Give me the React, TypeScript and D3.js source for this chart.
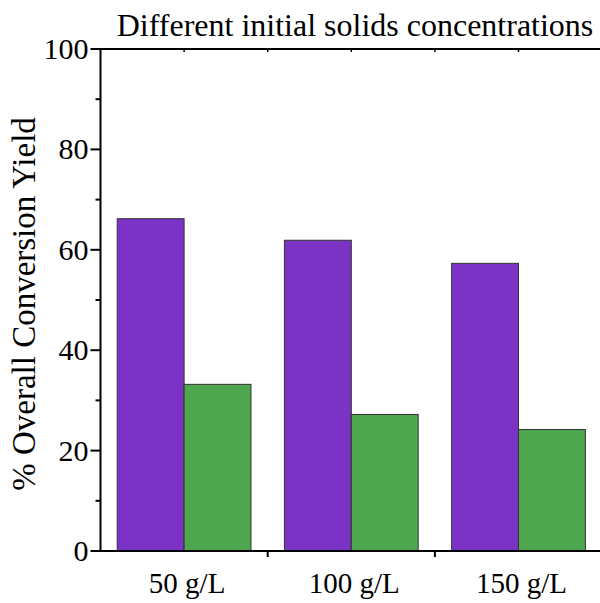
import * as d3 from 'd3';

const CATS = ['50 g/L', '100 g/L', '150 g/L'];
const SERIES_A = [66.2, 61.9, 57.3];
const SERIES_B = [33.2, 27.2, 24.2];
const Y_TICKS = [0, 20, 40, 60, 80, 100];
const Y_MINOR = [10, 30, 50, 70, 90];
const TITLE = 'Different initial solids concentrations';
const Y_LABEL = '% Overall Conversion Yield';

const W = 600, H = 603;
const M = { left: 100.5, top: 49, bottom: 551 };
const FONT = '"Times New Roman", "Liberation Serif", serif';
const PURPLE = '#7B33C6';
const GREEN = '#4EA64F';

export default function App() {
  const x = d3.scaleBand<string>().domain(CATS).range([M.left, M.left + 501.6]).paddingInner(0.2).paddingOuter(0.1);
  const sub = d3.scaleBand<number>().domain([0, 1]).range([0, x.bandwidth()]);
  const y = d3.scaleLinear().domain([0, 100]).range([M.bottom, M.top]);
  const step = x.step();
  const centers = CATS.map(c => x(c)! + x.bandwidth() / 2);
  const bounds = centers.map(c => c + step / 2);

  return (
    <svg width={W} height={H} style={{ position: 'absolute', left: 0, top: 0 }} fontFamily={FONT}>
      <rect width={W} height={H} fill="#fff" />
      <text x={355} y={36} textAnchor="middle" fontSize={32} fill="#000">{TITLE}</text>

      {/* bars */}
      {CATS.map((c, i) => (
        <g key={c}>
          <rect x={x(c)! + sub(0)!} y={y(SERIES_A[i])} width={sub.bandwidth()} height={y(0) - y(SERIES_A[i])}
            fill={PURPLE} stroke="#333" strokeWidth={1} />
          <rect x={x(c)! + sub(1)!} y={y(SERIES_B[i])} width={sub.bandwidth()} height={y(0) - y(SERIES_B[i])}
            fill={GREEN} stroke="#333" strokeWidth={1} />
        </g>
      ))}

      {/* top axis */}
      <line x1={M.left} x2={W} y1={M.top} y2={M.top} stroke="#000" strokeWidth={2} />
      {[...centers, ...bounds].map((t, i) => (
        <line key={'tt' + i} x1={t} x2={t} y1={M.top} y2={M.top + 3} stroke="#000" strokeWidth={1.5} />
      ))}

      {/* bottom axis */}
      <line x1={M.left} x2={W} y1={M.bottom} y2={M.bottom} stroke="#000" strokeWidth={2} />
      {bounds.map((t, i) => (
        <line key={'bt' + i} x1={t} x2={t} y1={M.bottom} y2={M.bottom + 6} stroke="#000" strokeWidth={2} />
      ))}
      {CATS.map((c, i) => (
        <text key={c} x={centers[i] + 3} y={593} textAnchor="middle" fontSize={29} fill="#000">{c}</text>
      ))}

      {/* left axis */}
      <line x1={M.left} x2={M.left} y1={M.top - 1} y2={M.bottom + 1} stroke="#000" strokeWidth={2} />
      {Y_TICKS.map(t => (
        <g key={t}>
          <line x1={M.left - 10} x2={M.left} y1={y(t)} y2={y(t)} stroke="#000" strokeWidth={2} />
          <text x={M.left - 12} y={y(t) + 10} textAnchor="end" fontSize={30} fill="#000">{t}</text>
        </g>
      ))}
      {Y_MINOR.map(t => (
        <line key={t} x1={M.left - 5} x2={M.left} y1={y(t)} y2={y(t)} stroke="#000" strokeWidth={2} />
      ))}
      <text transform={`translate(35,${(M.top + M.bottom) / 2 + 4}) rotate(-90)`} textAnchor="middle" fontSize={33} fill="#000">
        {Y_LABEL}
      </text>
    </svg>
  );
}
